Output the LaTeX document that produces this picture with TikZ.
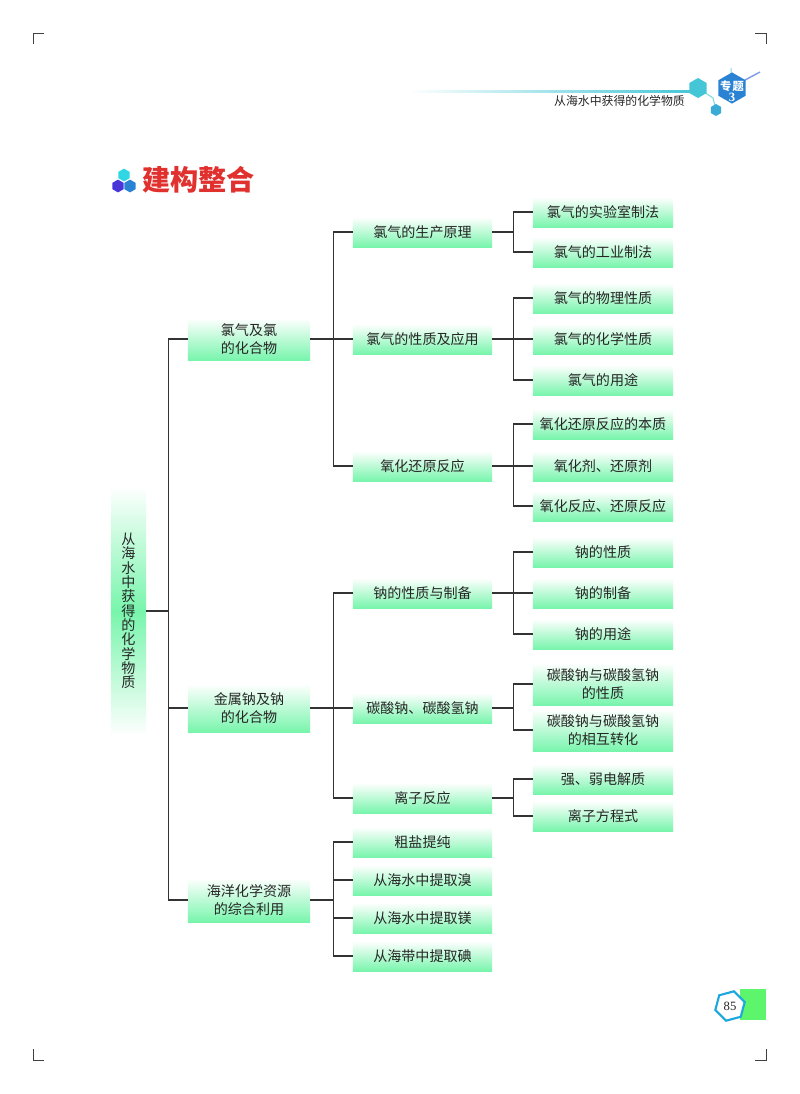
\documentclass[tikz,border=0pt]{standalone}
\usepackage{fontspec}
\setmainfont{Noto Sans CJK SC}
\newfontfamily\numfont{Liberation Serif}
\usetikzlibrary{shapes.geometric}
\definecolor{boxgreen}{HTML}{78F5AC}
\definecolor{inkgray}{HTML}{262626}
\definecolor{linkgray}{HTML}{333333}
\definecolor{headred}{HTML}{E0312F}
\definecolor{hexteal}{HTML}{45C6D6}
\definecolor{hexblue}{HTML}{2A82D2}
\definecolor{hexviolet}{HTML}{4A35D8}
\definecolor{rulemid}{HTML}{7F9CE8}
\definecolor{pagegreen}{HTML}{5CF56C}
\tikzset{
  box/.style={top color=white,bottom color=boxgreen,text=inkgray,inner sep=0pt,align=center,
    font=\fontsize{10}{12.8}\selectfont},
  rootbox/.style={box,top color=white,bottom color=white,middle color=boxgreen,
    minimum width=0.875cm,minimum height=6.25cm,font=\fontsize{10}{10.2}\selectfont},
  partbox/.style={box,minimum width=3.05cm,minimum height=#1},
  topicbox/.style={box,minimum width=3.475cm,minimum height=0.75cm},
  itembox/.style={box,minimum width=3.5cm,minimum height=#1},
  itembox/.default=0.75cm,
  link/.style={draw=linkgray,line width=0.8pt},
  hex/.style={regular polygon,regular polygon sides=6,shape border rotate=30,inner sep=0pt,fill=#1},
  crop/.style={draw=black!75,line width=0.6pt},
  bond/.style={draw=hexteal!70,line width=0.7pt}
}
\begin{document}
\begin{tikzpicture}[x=0.025cm,y=-0.025cm]
  \useasboundingbox (0,0) rectangle (800,1094);

  % crop marks
  \draw[crop] (44,33) -- (33,33) -- (33,44);
  \draw[crop] (755,33) -- (766,33) -- (766,44);
  \draw[crop] (33,1049) -- (33,1060) -- (44,1060);
  \draw[crop] (755,1060) -- (766,1060) -- (766,1049);

  % running head
  \shade[left color=white,middle color=rulemid,right color=hexteal] (408,90) rectangle (692,92.5);
  \draw[bond] (698,88) -- (713,98) -- (716,110);
  \draw[bond] (731,68) -- (732,87);
  \draw[draw=rulemid,line width=1pt] (732,87) -- (760,72);
  \node[hex=hexteal,minimum size=0.5cm] (hexa) at (698,88) {};
  \node[hex=hexteal!60!hexblue,minimum size=0.3cm] (hexb) at (716,110) {};
  \node[hex=hexblue,minimum size=0.78cm] (unit) at (732,88) {};
  \node[inner sep=0pt,align=center,text=white,font=\fontsize{8}{8.2}\bfseries\selectfont] (unittext) at (732,91)
    {专\hspace{1pt}题\\{\numfont\fontsize{9}{9}\selectfont 3}};
  \node[text=inkgray,inner sep=0pt,font=\fontsize{8.45}{10}\selectfont] (head) at (619.5,101) {从海水中获得的化学物质};

  % heading
  \node[hex=hexteal!70!cyan,minimum size=0.32cm] (iconc) at (124,175) {};
  \node[hex=hexviolet,minimum size=0.32cm] (iconv) at (118,186) {};
  \node[hex=hexblue,minimum size=0.32cm] (iconb) at (130,186) {};
  \node[text=headred,inner sep=0pt,font=\fontsize{20}{22}\bfseries\selectfont] (title) at (198.5,180) {建构整合};

  % first column
  \node[rootbox] (root) at (128.5,611) {从\\海\\水\\中\\获\\得\\的\\化\\学\\物\\质};

  % second column
  \node[partbox=1.05cm] (chlor) at (249,339) {氯气及氯\\的化合物};
  \node[partbox=1.2cm] (sodium) at (249,708) {金属钠及钠\\的化合物};
  \node[partbox=1.1cm] (marine) at (249,900) {海洋化学资源\\的综合利用};

  % third column
  \node[topicbox] (prod) at (422.5,232) {氯气的生产原理};
  \node[topicbox] (use) at (422.5,339) {氯气的性质及应用};
  \node[topicbox] (redox) at (422.5,466) {氧化还原反应};
  \node[topicbox] (na) at (422.5,593) {钠的性质与制备};
  \node[topicbox] (carb) at (422.5,708) {碳酸钠、碳酸氢钠};
  \node[topicbox] (ionic) at (422.5,798) {离子反应};
  \node[topicbox] (salt) at (422.5,842) {粗盐提纯};
  \node[topicbox] (brom) at (422.5,880) {从海水中提取溴};
  \node[topicbox] (magn) at (422.5,918) {从海水中提取镁};
  \node[topicbox] (iodi) at (422.5,956) {从海带中提取碘};

  % fourth column
  \node[itembox] (lab) at (603,212) {氯气的实验室制法};
  \node[itembox] (ind) at (603,252) {氯气的工业制法};
  \node[itembox] (phys) at (603,298) {氯气的物理性质};
  \node[itembox] (chem) at (603,339) {氯气的化学性质};
  \node[itembox] (appl) at (603,380) {氯气的用途};
  \node[itembox] (ess) at (603,424) {氧化还原反应的本质};
  \node[itembox] (agent) at (603,466) {氧化剂、还原剂};
  \node[itembox] (react) at (603,506) {氧化反应、还原反应};
  \node[itembox] (naprop) at (603,552) {钠的性质};
  \node[itembox] (namake) at (603,593) {钠的制备};
  \node[itembox] (nause) at (603,634) {钠的用途};
  \node[itembox=1.05cm] (cprop) at (603,684) {碳酸钠与碳酸氢钠\\的性质};
  \node[itembox=1.05cm] (cconv) at (603,730) {碳酸钠与碳酸氢钠\\的相互转化};
  \node[itembox] (elec) at (603,779) {强、弱电解质};
  \node[itembox] (eqn) at (603,816) {离子方程式};

  % connectors
  \draw[link] (root.east) -- ++(22,0) |- (chlor.west);
  \draw[link] (root.east) -- ++(22,0) |- (sodium.west);
  \draw[link] (root.east) -- ++(22,0) |- (marine.west);

  \draw[link] (chlor.east) -- (use.west);
  \draw[link] (chlor.east) -- ++(23,0) |- (prod.west);
  \draw[link] (chlor.east) -- ++(23,0) |- (redox.west);
  \draw[link] (sodium.east) -- (carb.west);
  \draw[link] (sodium.east) -- ++(23,0) |- (na.west);
  \draw[link] (sodium.east) -- ++(23,0) |- (ionic.west);
  \draw[link] (marine.east) -- ++(23,0) |- (salt.west);
  \draw[link] (marine.east) -- ++(23,0) |- (brom.west);
  \draw[link] (marine.east) -- ++(23,0) |- (magn.west);
  \draw[link] (marine.east) -- ++(23,0) |- (iodi.west);

  \draw[link] (prod.east) -- ++(21,0) |- (lab.west);
  \draw[link] (prod.east) -- ++(21,0) |- (ind.west);
  \draw[link] (use.east) -- (chem.west);
  \draw[link] (use.east) -- ++(21,0) |- (phys.west);
  \draw[link] (use.east) -- ++(21,0) |- (appl.west);
  \draw[link] (redox.east) -- (agent.west);
  \draw[link] (redox.east) -- ++(21,0) |- (ess.west);
  \draw[link] (redox.east) -- ++(21,0) |- (react.west);
  \draw[link] (na.east) -- (namake.west);
  \draw[link] (na.east) -- ++(21,0) |- (naprop.west);
  \draw[link] (na.east) -- ++(21,0) |- (nause.west);
  \draw[link] (carb.east) -- ++(21,0) |- (cprop.west);
  \draw[link] (carb.east) -- ++(21,0) |- (cconv.west);
  \draw[link] (ionic.east) -- ++(21,0) |- (elec.west);
  \draw[link] (ionic.east) -- ++(21,0) |- (eqn.west);

  % page number
  \fill[pagegreen] (740,989) rectangle (766,1020);
  \node[regular polygon,regular polygon sides=6,shape border rotate=15,fill=white,draw=hexblue!70!cyan,line width=1.5pt,
    minimum size=0.76cm,inner sep=0pt,text=inkgray,font=\numfont\fontsize{9}{10}\selectfont] (pageno) at (730,1006) {85};
\end{tikzpicture}
\end{document}
